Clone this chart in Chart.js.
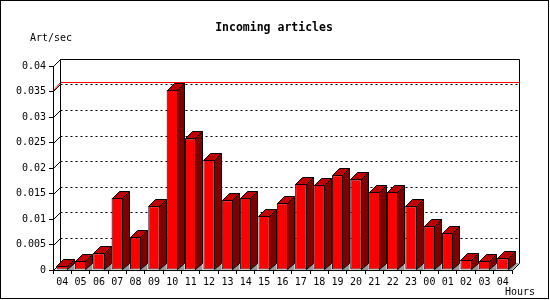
<!DOCTYPE html>
<html>
<head>
<meta charset="utf-8">
<title>Incoming articles</title>
<script src="https://cdn.jsdelivr.net/npm/chart.js@4.4.0/dist/chart.umd.min.js"></script>
<style>
  html, body { margin: 0; padding: 0; background: #fff; }
</style>
</head>
<body>
<canvas id="articlesChart" width="550" height="300"></canvas>
<script>
// Hours on the x axis (last 24h, oldest first)
const hours = ['04', '05', '06', '07', '08', '09', '10', '11', '12', '13', '14', '15', '16',
               '17', '18', '19', '20', '21', '22', '23', '00', '01', '02', '03', '04'];

// Incoming articles per second, one value per hour
const artPerSec = [0.0008, 0.0018, 0.0033, 0.0141, 0.0064, 0.0125, 0.0353, 0.0258, 0.0216,
                   0.0137, 0.0141, 0.0106, 0.0131, 0.0169, 0.0167, 0.0186, 0.0178, 0.0153,
                   0.0153, 0.0125, 0.0086, 0.0073, 0.0020, 0.0018, 0.0023];

// Y tick labels
const yTicks = ['0', '0.005', '0.01', '0.015', '0.02', '0.025', '0.03', '0.035', '0.04'];

const DEPTH = 7; // 3D depth in px
const FONT = 'DejaVu Sans Mono';

function poly(ctx, pts, fill, stroke) {
  ctx.beginPath();
  ctx.moveTo(pts[0][0], pts[0][1]);
  for (let i = 1; i < pts.length; i++) ctx.lineTo(pts[i][0], pts[i][1]);
  ctx.closePath();
  if (fill) { ctx.fillStyle = fill; ctx.fill(); }
  if (stroke) { ctx.strokeStyle = stroke; ctx.lineWidth = 1; ctx.stroke(); }
}

function line(ctx, x1, y1, x2, y2, color, dash) {
  ctx.beginPath();
  ctx.setLineDash(dash || []);
  ctx.strokeStyle = color;
  ctx.lineWidth = 1;
  ctx.moveTo(x1, y1);
  ctx.lineTo(x2, y2);
  ctx.stroke();
  ctx.setLineDash([]);
}

// Background, back wall, grid and 3D bar faces
const bars3d = {
  id: 'bars3d',
  beforeDraw(chart) {
    const ctx = chart.ctx;
    ctx.save();
    ctx.fillStyle = '#fff';
    ctx.fillRect(0, 0, chart.width, chart.height);
    ctx.strokeStyle = '#000';
    ctx.strokeRect(0.5, 0.5, 548, 298);
    ctx.restore();
  },
  beforeDatasetsDraw(chart) {
    const { ctx, chartArea: a, scales: { y } } = chart;
    const L = Math.round(a.left), R = Math.round(a.right), B = Math.round(a.bottom);
    const bl = L + DEPTH + 0.5, br = R + DEPTH + 0.5;
    const bt = Math.round(y.getPixelForValue(y.max)) - DEPTH + 0.5;
    const bb = B - DEPTH + 0.5;
    ctx.save();
    // dotted grid lines on the back wall + slanted connectors
    yTicks.forEach(t => {
      const v = parseFloat(t);
      const yf = Math.round(y.getPixelForValue(v));
      const yb = yf - DEPTH + 0.5;
      if (v > 0 && v < y.max) line(ctx, bl, yb, br, yb, '#000', [2, 3]);
      line(ctx, L + 0.5, yf + 0.5, bl, yb, '#000');
    });
    // max line
    const maxV = Math.max(...artPerSec);
    const ymf = Math.round(y.getPixelForValue(maxV));
    line(ctx, bl, ymf - DEPTH - 0.5, br, ymf - DEPTH - 0.5, '#ff0000');
    line(ctx, L + 0.5, ymf + 0.5, bl, ymf - DEPTH - 0.5, '#ff0000');
    // back wall frame
    line(ctx, bl, bt, bl, bb, '#000');
    line(ctx, bl, bt, br, bt, '#000');
    line(ctx, br, bt, br, bb, '#000');
    ctx.restore();
  },
  afterDatasetsDraw(chart) {
    const { ctx, chartArea: a } = chart;
    const meta = chart.getDatasetMeta(0);
    ctx.save();
    meta.data.forEach((bar, i) => {
      const p = bar.getProps(['x', 'y', 'base', 'width'], true);
      const x1 = Math.round(p.x - p.width / 2) + 0.5;
      const x2 = Math.round(p.x + p.width / 2) - 0.5;
      const top = Math.round(p.y) + 0.5;
      const base = Math.round(p.base);
      // floor shadow
      if (i === meta.data.length - 1) {
        poly(ctx, [[x2, base], [x2 + DEPTH, base - DEPTH], [a.right + DEPTH, base - DEPTH], [a.right, base]], '#999999');
        line(ctx, a.right + DEPTH + 0.5, base - DEPTH + 0.5, a.right + 0.5, base + 0.5, '#000');
      } else {
        poly(ctx, [[x2, base], [x2 + DEPTH, base - DEPTH], [x2 + DEPTH, base]], '#999999');
      }
      // top face
      poly(ctx, [[x1, top], [x1 + DEPTH, top - DEPTH], [x2 + DEPTH, top - DEPTH], [x2, top]], '#c00000', '#000');
      // side face
      poly(ctx, [[x2, top], [x2 + DEPTH, top - DEPTH], [x2 + DEPTH, base - DEPTH + 0.5], [x2, base - 0.5]], '#800000', '#000');
    });
    ctx.restore();
  },
  afterDraw(chart) {
    const ctx = chart.ctx;
    ctx.save();
    ctx.fillStyle = '#000';
    ctx.textBaseline = 'alphabetic';
    ctx.font = 'bold 11.5px "' + FONT + '"';
    ctx.textAlign = 'center';
    ctx.fillText('Incoming articles', 274, 31);
    ctx.font = '10px "' + FONT + '"';
    ctx.textAlign = 'left';
    ctx.fillText('Art/sec', 30, 41);
    ctx.fillText('Hours', 505, 295);
    ctx.restore();
  }
};

new Chart(document.getElementById('articlesChart'), {
  type: 'bar',
  data: {
    labels: hours,
    datasets: [{
      label: 'Art/sec',
      data: artPerSec,
      backgroundColor: '#ff0000',
      borderColor: '#000000',
      borderWidth: 1,
      borderSkipped: false,
      barPercentage: 0.62,
      categoryPercentage: 1.0
    }]
  },
  options: {
    responsive: false,
    animation: false,
    devicePixelRatio: 1,
    layout: { padding: { top: 66, right: 38, left: 0, bottom: 0 } },
    plugins: { legend: { display: false }, tooltip: { enabled: false } },
    scales: {
      x: {
        afterFit: s => { s.height = 30; },
        grid: { offset: true, drawOnChartArea: false, drawTicks: true, tickLength: 4, color: '#000' },
        border: { display: true, color: '#000' },
        ticks: { color: '#000', padding: 2, maxRotation: 0, autoSkip: false, font: { family: FONT, size: 10 } }
      },
      y: {
        min: 0,
        max: 0.04,
        afterFit: s => { s.width = 53; },
        grid: { drawOnChartArea: false, drawTicks: true, tickLength: 4, color: '#000' },
        border: { display: true, color: '#000' },
        ticks: {
          stepSize: 0.005,
          color: '#000',
          padding: 3,
          font: { family: FONT, size: 10 },
          callback: (v, i) => yTicks[i]
        }
      }
    }
  },
  plugins: [bars3d]
});
</script>
</body>
</html>
